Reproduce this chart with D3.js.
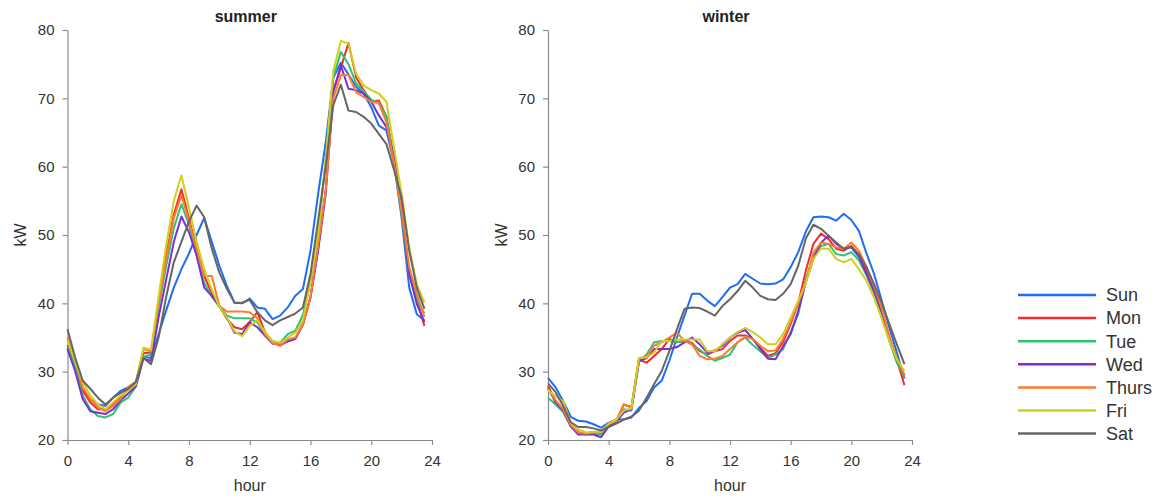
<!DOCTYPE html>
<html><head><meta charset="utf-8">
<script src="https://cdn.jsdelivr.net/npm/d3@7"></script>
<style>
html,body{margin:0;padding:0;background:#fff;}
svg{display:block;font-family:"Liberation Sans",Arial,Helvetica,sans-serif;}
</style></head>
<body>
<svg id="chart" width="1171" height="500"></svg>
<script>
const hours = [0,0.5,1,1.5,2,2.5,3,3.5,4,4.5,5,5.5,6,6.5,7,7.5,8,8.5,9,9.5,10,10.5,11,11.5,12,12.5,13,13.5,14,14.5,15,15.5,16,16.5,17,17.5,18,18.5,19,19.5,20,20.5,21,21.5,22,22.5,23,23.5];
const days = ["Sun","Mon","Tue","Wed","Thurs","Fri","Sat"];
const dayColors = ["#1f6cf5","#f72a2a","#2bc472","#7a2fd6","#ff7a2e","#cfcf1c","#666666"];
const xTicks = [0,4,8,12,16,20,24];
const yTicks = [20,30,40,50,60,70,80];
const panelTitles = ["summer","winter"];

const summerSun   = [33.9,31.0,27.2,26.0,25.2,25.0,26.2,27.2,27.7,28.5,32.2,32.0,35.5,39.0,42.3,45.0,47.3,50.0,52.5,49.0,45.5,42.5,40.1,40.0,40.7,39.4,39.2,37.7,38.2,39.4,41.1,42.1,47.7,56.0,63.5,73.0,75.2,73.5,71.7,70.7,68.7,66.0,65.3,60.5,52.5,42.3,38.4,37.5];
const summerMon   = [33.5,31.5,27.2,25.5,24.5,24.5,25.2,26.2,27.5,28.2,32.7,32.8,40.0,47.0,53.0,56.7,52.4,48.0,44.0,41.5,39.6,37.7,36.5,36.2,37.3,38.7,35.8,34.3,33.8,34.5,34.8,36.9,40.9,48.0,56.5,71.0,74.5,78.1,73.1,71.2,69.5,69.7,67.3,61.0,53.5,44.3,40.5,36.7];
const summerTue   = [33.5,30.8,26.5,24.5,23.5,23.3,23.8,25.5,26.2,27.8,32.2,32.5,39.5,45.5,51.0,54.5,51.5,47.0,43.0,41.0,39.5,38.2,37.8,37.8,37.8,37.2,35.5,34.5,34.2,35.5,36.0,38.3,43.3,50.0,61.0,73.0,76.8,75.0,72.2,71.0,69.8,69.3,67.3,61.0,53.0,44.3,40.5,38.5];
const summerWed   = [33.3,30.1,26.0,24.2,24.0,23.8,24.5,25.8,26.8,27.9,31.9,31.6,38.0,43.5,49.0,52.7,50.4,47.0,42.3,41.1,39.6,37.9,35.7,35.5,37.2,36.5,35.3,34.1,34.0,34.4,34.8,36.9,40.9,47.7,56.0,71.0,74.8,71.4,71.2,70.7,69.5,67.5,65.8,61.5,53.5,44.3,39.9,37.3];
const summerThurs = [35.0,31.8,27.7,26.0,24.8,24.2,25.0,26.0,27.7,28.5,33.3,33.0,40.0,46.5,52.5,55.8,52.0,48.0,44.0,44.0,39.6,38.8,38.8,38.8,38.7,37.8,35.5,34.2,33.8,34.7,35.0,36.9,40.9,48.5,56.5,70.0,73.4,73.4,70.9,70.2,69.5,69.3,66.5,60.5,53.5,45.3,41.4,38.0];
const summerFri   = [34.5,31.5,28.5,26.5,25.2,24.5,25.5,26.5,27.2,28.2,33.5,33.2,41.0,48.5,55.0,58.7,54.0,49.0,45.0,42.0,39.5,37.9,35.9,35.2,36.7,37.5,35.8,34.5,34.2,35.0,35.7,37.5,43.3,50.0,61.0,74.0,78.4,78.0,73.6,71.9,71.2,70.7,69.5,62.8,56.0,48.2,42.8,40.1];
const summerSat   = [36.2,32.1,28.7,27.5,26.2,25.2,26.2,26.9,27.5,28.5,32.0,31.1,35.0,41.0,46.0,49.0,52.0,54.3,52.6,48.0,44.5,42.1,40.1,40.1,40.5,38.7,37.5,36.8,37.5,38.0,38.5,39.4,44.3,52.1,60.0,69.0,72.0,68.2,68.0,67.3,66.3,64.8,63.3,59.5,55.5,47.7,42.3,39.2];

const winterSun   = [29.1,27.7,25.7,23.4,22.8,22.7,22.3,21.8,22.5,23.0,23.0,23.3,24.7,25.7,27.7,28.7,31.6,35.0,38.2,41.4,41.4,40.4,39.6,40.9,42.3,42.8,44.3,43.6,42.9,42.8,42.9,43.5,45.3,47.5,50.5,52.6,52.7,52.6,52.1,53.1,52.2,50.6,47.3,44.3,40.4,36.5,32.8,29.0];
const winterMon   = [27.9,25.7,24.5,22.0,21.1,20.8,21.0,21.0,22.3,22.8,25.2,24.8,31.8,31.3,32.3,33.3,34.8,34.3,34.5,34.2,33.0,32.5,33.0,33.3,34.5,35.3,35.3,34.8,33.5,32.3,32.7,34.3,37.0,40.0,44.8,48.7,50.2,49.4,48.0,47.7,48.4,47.0,44.8,42.3,39.0,35.0,31.8,28.0];
const winterTue   = [26.2,25.2,24.1,22.0,21.1,21.0,21.0,20.8,22.3,22.8,24.5,24.3,31.5,32.5,34.3,34.5,34.5,34.3,34.5,34.0,33.2,32.3,31.6,32.0,32.5,34.3,35.0,33.9,33.0,32.0,32.5,33.3,35.8,38.4,43.5,47.0,48.4,48.7,47.2,47.0,47.5,46.3,44.1,41.5,38.5,34.5,31.3,29.3];
const winterWed   = [27.6,25.5,24.3,22.0,20.8,20.8,20.8,20.4,22.0,22.7,24.0,24.5,31.5,32.0,33.3,33.3,33.3,33.6,34.3,35.0,34.0,32.8,33.1,33.8,35.0,35.7,36.1,34.8,33.3,31.9,31.8,33.7,35.5,38.9,43.1,46.5,48.9,49.9,48.7,48.0,48.2,46.8,44.3,41.8,38.8,34.8,31.8,29.5];
const winterThurs = [27.5,25.8,24.5,22.2,21.1,20.9,21.1,21.1,22.3,22.8,25.2,24.8,32.0,32.1,33.8,34.3,35.0,35.7,34.5,34.0,32.3,31.8,31.9,32.3,33.3,34.3,35.1,34.8,33.8,33.0,33.1,34.8,37.3,40.0,43.1,47.4,48.9,48.7,48.2,48.0,48.9,47.7,45.3,42.5,39.3,35.3,32.0,29.5];
const winterFri   = [27.3,26.4,25.7,22.5,21.5,21.1,21.2,21.2,22.4,23.0,24.3,24.6,32.0,32.1,32.8,34.5,34.5,34.7,34.7,34.7,34.7,33.0,33.0,34.0,35.0,35.8,36.4,35.8,35.0,34.0,34.0,35.5,37.9,40.4,43.0,46.5,48.0,48.0,46.5,46.0,46.5,45.0,43.3,40.8,37.8,34.5,31.8,30.1];
const winterSat   = [28.3,27.0,25.0,22.6,21.9,21.9,21.7,21.4,21.9,22.4,23.0,23.4,24.3,26.2,28.2,30.1,33.0,36.2,39.2,39.4,39.3,38.8,38.2,39.6,40.6,41.8,43.3,42.3,41.1,40.6,40.5,41.4,42.8,45.5,49.5,51.5,50.9,49.9,48.9,48.0,48.3,47.2,45.3,42.8,40.1,37.0,34.0,31.1];

const summerSeries = [summerSun,summerMon,summerTue,summerWed,summerThurs,summerFri,summerSat];
const winterSeries = [winterSun,winterMon,winterTue,winterWed,winterThurs,winterFri,winterSat];

const svg = d3.select("#chart");
const axisColor = "#8a8a8a";
const textColor = "#333";

const panels = [
  {title: panelTitles[0], series: summerSeries, x0: 67.5, x1: 432, ylab: 20},
  {title: panelTitles[1], series: winterSeries, x0: 548, x1: 912, ylab: 501}
];
const yTop = 30, yBot = 440;

panels.forEach(p => {
  const x = d3.scaleLinear().domain([0,24]).range([p.x0, p.x1]);
  const y = d3.scaleLinear().domain([20,80]).range([yBot, yTop]);
  const g = svg.append("g");

  const xAxis = g.append("g").attr("transform", `translate(0,${yBot})`)
    .call(d3.axisBottom(x).tickValues(xTicks).tickSize(5).tickSizeOuter(0).tickPadding(10));
  const yAxis = g.append("g").attr("transform", `translate(${p.x0},0)`)
    .call(d3.axisLeft(y).tickValues(yTicks).tickSize(5).tickSizeOuter(0).tickPadding(8));
  [xAxis, yAxis].forEach(a => {
    a.selectAll("path,line").attr("stroke", axisColor).attr("stroke-width", 1.2);
    a.selectAll("text").attr("fill", textColor).style("font-size", "15px")
      .style("font-family", "'Liberation Sans',Arial,sans-serif");
  });

  const line = d3.line().x((d,i) => x(hours[i])).y(d => y(d));
  p.series.forEach((s, k) => {
    g.append("path").datum(s).attr("d", line)
      .attr("fill", "none").attr("stroke", dayColors[k])
      .attr("stroke-width", 2).attr("stroke-linejoin", "round");
  });

  g.append("text").attr("x", (p.x0 + p.x1)/2 - 4).attr("y", 22)
    .attr("text-anchor", "middle").attr("font-weight", "bold")
    .style("font-size", "16px").attr("fill", "#222").text(p.title);
  g.append("text").attr("x", (p.x0 + p.x1)/2).attr("y", 491)
    .attr("text-anchor", "middle").style("font-size", "16px").attr("fill", textColor).text("hour");
  g.append("text").attr("transform", `translate(${p.ylab},${(yTop+yBot)/2}) rotate(-90)`)
    .attr("text-anchor", "middle").attr("dy", "0.35em")
    .style("font-size", "16px").attr("fill", textColor).text("kW");
});

const legend = svg.append("g");
days.forEach((d, k) => {
  const yy = 295 + k * 23.1;
  legend.append("line").attr("x1", 1018).attr("x2", 1096).attr("y1", yy).attr("y2", yy)
    .attr("stroke", dayColors[k]).attr("stroke-width", 2.5);
  legend.append("text").attr("x", 1106).attr("y", yy).attr("dy", "0.35em")
    .style("font-size", "18px").attr("fill", textColor).text(d);
});
</script>
</body></html>
